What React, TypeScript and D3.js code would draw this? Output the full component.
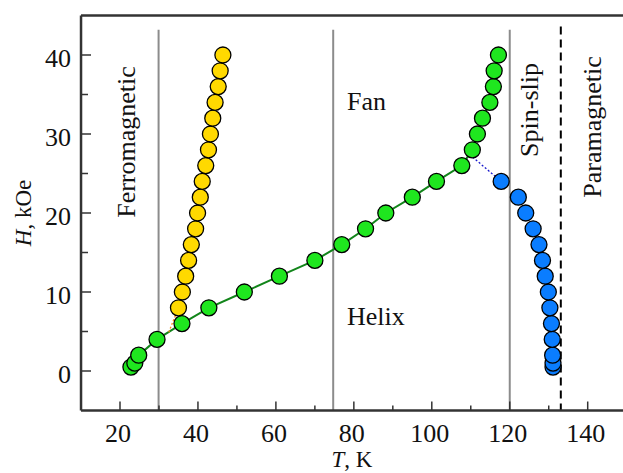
import React from "react";
import * as d3 from "d3";

// Ferromagnetic -> fan boundary (yellow)
const ferroT = [35.0, 36.0, 36.85, 37.6, 38.3, 39.4, 39.9, 40.6, 41.1, 42.0, 42.7, 43.2, 43.8, 44.4, 45.2, 45.7, 46.4];
const ferroH = [8, 10, 12, 14, 16, 18, 20, 22, 24, 26, 28, 30, 32, 34, 36, 38, 40];

// Helix / fan boundary (green)
const helixT = [22.8, 23.8, 24.8, 29.5, 35.9, 42.8, 51.9, 60.9, 70.0, 76.9, 83.0, 88.2, 95.0, 101.2, 107.7, 110.4, 111.7, 113.0, 114.9, 115.8, 116.0, 117.1];
const helixH = [0.5, 1, 2, 4, 6, 8, 10, 12, 14, 16, 18, 20, 22, 24, 26, 28, 30, 32, 34, 36, 38, 40];

// Spin-slip boundary (blue)
const spinT = [131.1, 131.1, 131.0, 130.9, 130.7, 130.3, 129.9, 129.1, 128.4, 127.5, 126.0, 124.1, 122.2, 117.8];
const spinH = [0.5, 1, 2, 4, 6, 8, 10, 12, 14, 16, 18, 20, 22, 24];

// dotted connectors
const ferroLinkT = [32.5, 35.0];
const ferroLinkH = [4.9, 8];
const spinLinkT = [109.7, 117.8];
const spinLinkH = [27.4, 24];

// phase boundaries (vertical lines)
const grayLinesT = [29.9, 74.7, 120.0];
const neelT = 133.1;

const xTicks = [20, 40, 60, 80, 100, 120, 140];
const xMinor = [30, 50, 70, 90, 110, 130];
const yTicks = [0, 10, 20, 30, 40];
const yMinor = [5, 15, 25, 35];

const W = 623;
const H = 473;

const x = d3.scaleLinear().domain([20, 140]).range([120, 587.7]);
const y = d3.scaleLinear().domain([-5, 45]).range([410.5, 15.5]);

const font = "'Liberation Serif', 'Times New Roman', serif";

const pts = (ts: number[], hs: number[]) => ts.map((t, i) => [t, hs[i]] as [number, number]);

export default function App() {
  const line = d3
    .line<[number, number]>()
    .x((d) => x(d[0]))
    .y((d) => y(d[1]));

  const left = x(10);
  const right = x(150);
  const top = y(45);
  const bottom = y(-5);

  const dots = (ts: number[], hs: number[], fill: string) =>
    pts(ts, hs).map((d, i) => (
      <circle key={i} cx={x(d[0])} cy={y(d[1])} r={8} fill={fill} stroke="#000" strokeWidth={1.3} />
    ));

  return (
    <svg
      width={W}
      height={H}
      style={{ position: "absolute", left: 0, top: 0, background: "#fff" }}
      fontFamily={font}
    >
      {/* phase boundary lines */}
      {grayLinesT.map((t) => (
        <line key={t} x1={x(t)} x2={x(t)} y1={y(43.2)} y2={bottom} stroke="#8c8c8c" strokeWidth={2} />
      ))}
      <line x1={x(neelT)} x2={x(neelT)} y1={y(43.6)} y2={bottom} stroke="#000" strokeWidth={2} strokeDasharray="8,5" />

      {/* axes frame */}
      <line x1={left} x2={right} y1={top} y2={top} stroke="#333" strokeWidth={2.5} />
      <line x1={left} x2={right} y1={bottom} y2={bottom} stroke="#333" strokeWidth={2.5} />
      <line x1={left} x2={left} y1={top} y2={bottom} stroke="#333" strokeWidth={2.5} />

      {xTicks.map((t) => (
        <g key={t}>
          <line x1={x(t)} x2={x(t)} y1={bottom} y2={bottom - 9} stroke="#333" strokeWidth={1.5} />
          <text x={x(t) - 2} y={bottom + 31} textAnchor="middle" fontSize={26} fill="#111">
            {t}
          </text>
        </g>
      ))}
      {xMinor.map((t) => (
        <line key={t} x1={x(t)} x2={x(t)} y1={bottom} y2={bottom - 5} stroke="#333" strokeWidth={1.5} />
      ))}
      {yTicks.map((h) => (
        <g key={h}>
          <line x1={left} x2={left + 10} y1={y(h)} y2={y(h)} stroke="#333" strokeWidth={1.5} />
          <text x={left - 10} y={y(h) + 12} textAnchor="end" fontSize={26} fill="#111">
            {h}
          </text>
        </g>
      ))}
      {yMinor.map((h) => (
        <line key={h} x1={left} x2={left + 7} y1={y(h)} y2={y(h)} stroke="#333" strokeWidth={1.5} />
      ))}

      {/* axis titles */}
      <text x={352} y={467} textAnchor="middle" fontSize={23} fill="#111">
        <tspan fontStyle="italic">T</tspan>, K
      </text>
      <text transform={`translate(31,213) rotate(-90)`} textAnchor="middle" fontSize={23} fill="#111">
        <tspan fontStyle="italic">H</tspan>, kOe
      </text>

      {/* region labels */}
      <text transform="translate(135,142) rotate(-90)" textAnchor="middle" fontSize={26} fill="#111">
        Ferromagnetic
      </text>
      <text x={347} y={110} fontSize={26} fill="#111">Fan</text>
      <text x={347} y={325} fontSize={26} fill="#111">Helix</text>
      <text transform="translate(538,110) rotate(-90)" textAnchor="middle" fontSize={26} fill="#111">
        Spin-slip
      </text>
      <text transform="translate(601,127) rotate(-90)" textAnchor="middle" fontSize={26} fill="#111">
        Paramagnetic
      </text>

      {/* lines */}
      <path d={line(pts(helixT, helixH)) ?? ""} fill="none" stroke="#12851a" strokeWidth={2} />
      <path d={line(pts(ferroLinkT, ferroLinkH)) ?? ""} fill="none" stroke="#ff8c1a" strokeWidth={1.3} strokeDasharray="2,2" />
      <path d={line(pts(spinLinkT, spinLinkH)) ?? ""} fill="none" stroke="#1a1acc" strokeWidth={1.3} strokeDasharray="2,2" />

      {/* points */}
      {dots(helixT, helixH, "#1fe61f")}
      {dots(ferroT, ferroH, "#ffd900")}
      {dots(spinT, spinH, "#0a7dff")}
    </svg>
  );
}
